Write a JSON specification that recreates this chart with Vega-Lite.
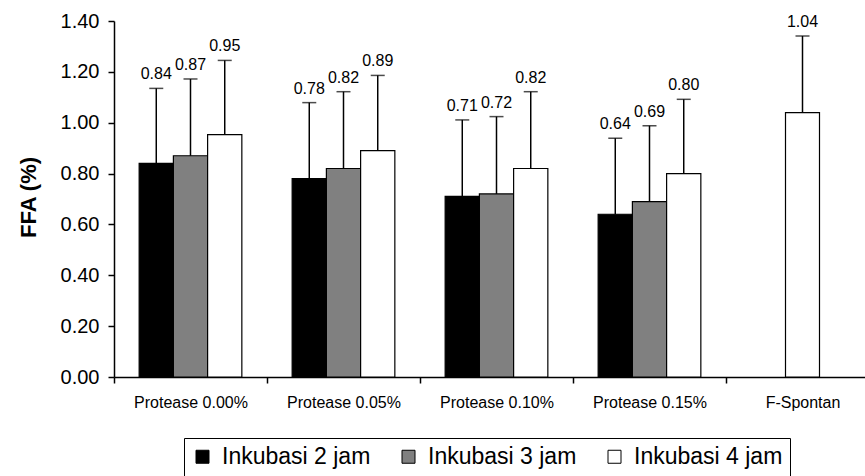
{
  "$schema": "https://vega.github.io/schema/vega-lite/v6.json",
  "autosize": {"type": "none"},
  "padding": {"left": 114, "top": 21, "right": 0, "bottom": 99},
  "width": 751,
  "height": 356,
  "background": "white",
  "config": {
    "view": {"stroke": null},
    "font": "Liberation Sans"
  },
  "data": {
    "values": [
      {"group": "Protease 0.00%", "series": "Inkubasi 2 jam", "value": 0.84, "upper": 1.135, "label": "0.84"},
      {"group": "Protease 0.00%", "series": "Inkubasi 3 jam", "value": 0.87, "upper": 1.172, "label": "0.87"},
      {"group": "Protease 0.00%", "series": "Inkubasi 4 jam", "value": 0.953, "upper": 1.245, "label": "0.95"},
      {"group": "Protease 0.05%", "series": "Inkubasi 2 jam", "value": 0.78, "upper": 1.079, "label": "0.78"},
      {"group": "Protease 0.05%", "series": "Inkubasi 3 jam", "value": 0.82, "upper": 1.122, "label": "0.82"},
      {"group": "Protease 0.05%", "series": "Inkubasi 4 jam", "value": 0.89, "upper": 1.186, "label": "0.89"},
      {"group": "Protease 0.10%", "series": "Inkubasi 2 jam", "value": 0.71, "upper": 1.011, "label": "0.71"},
      {"group": "Protease 0.10%", "series": "Inkubasi 3 jam", "value": 0.72, "upper": 1.024, "label": "0.72"},
      {"group": "Protease 0.10%", "series": "Inkubasi 4 jam", "value": 0.82, "upper": 1.122, "label": "0.82"},
      {"group": "Protease 0.15%", "series": "Inkubasi 2 jam", "value": 0.64, "upper": 0.939, "label": "0.64"},
      {"group": "Protease 0.15%", "series": "Inkubasi 3 jam", "value": 0.69, "upper": 0.988, "label": "0.69"},
      {"group": "Protease 0.15%", "series": "Inkubasi 4 jam", "value": 0.80, "upper": 1.092, "label": "0.80"},
      {"group": "F-Spontan", "series": "Inkubasi 4 jam", "value": 1.04, "upper": 1.341, "label": "1.04"}
    ]
  },
  "encoding": {
    "x": {
      "field": "group",
      "type": "nominal",
      "sort": ["Protease 0.00%", "Protease 0.05%", "Protease 0.10%", "Protease 0.15%", "F-Spontan"],
      "scale": {"range": [0, 765], "paddingInner": 0, "paddingOuter": 0},
      "axis": {
        "title": null,
        "labelAngle": 0,
        "labelFontSize": 16,
        "labelColor": "black",
        "labelPadding": 11,
        "tickBand": "extent",
        "tickSize": 6,
        "tickColor": "black",
        "domainColor": "black",
        "domainWidth": 1.5,
        "tickWidth": 1.5
      }
    },
    "y": {
      "field": "value",
      "type": "quantitative",
      "scale": {"domain": [0, 1.4], "nice": false},
      "axis": {
        "title": "FFA (%)",
        "titleFontSize": 22,
        "titleFontWeight": "bold",
        "titleColor": "black",
        "titleX": -79,
        "titleY": 176,
        "titleBaseline": "alphabetic",
        "values": [0, 0.2, 0.4, 0.6, 0.8, 1.0, 1.2, 1.4],
        "format": ".2f",
        "grid": false,
        "labelFontSize": 20,
        "labelColor": "black",
        "labelPadding": 9,
        "tickSize": 6,
        "tickColor": "black",
        "tickWidth": 1.5,
        "domainColor": "black",
        "domainWidth": 1.5
      }
    }
  },
  "layer": [
    {
      "transform": [{"filter": "datum.group != 'F-Spontan'"}],
      "mark": {"type": "bar", "stroke": "black", "strokeWidth": 1.2},
      "encoding": {
        "xOffset": {
          "field": "series",
          "type": "nominal",
          "scale": {"paddingInner": 0, "paddingOuter": 0.735}
        },
        "fill": {
          "field": "series",
          "type": "nominal",
          "scale": {"domain": ["Inkubasi 2 jam", "Inkubasi 3 jam", "Inkubasi 4 jam"], "range": ["#000000", "#808080", "#ffffff"]},
          "legend": {
            "title": null,
            "orient": "none",
            "legendX": 70,
            "legendY": 417,
            "direction": "horizontal",
            "strokeColor": "black",
            "padding": 7,
            "labelFontSize": 23,
            "labelColor": "black",
            "labelOffset": 8,
            "symbolType": "square",
            "symbolSize": 169,
            "symbolStrokeColor": "black",
            "symbolStrokeWidth": 1,
            "columnPadding": 26
          }
        }
      }
    },
    {
      "transform": [{"filter": "datum.group == 'F-Spontan'"}],
      "mark": {"type": "bar", "stroke": "black", "strokeWidth": 1.2, "width": 34},
      "encoding": {
        "fill": {"field": "series", "type": "nominal"}
      }
    },
    {
      "transform": [{"filter": "datum.group != 'F-Spontan'"}],
      "mark": {"type": "rule", "color": "black", "strokeWidth": 1.5},
      "encoding": {
        "xOffset": {"field": "series", "type": "nominal"},
        "y2": {"field": "upper"}
      }
    },
    {
      "transform": [{"filter": "datum.group == 'F-Spontan'"}],
      "mark": {"type": "rule", "color": "black", "strokeWidth": 1.5},
      "encoding": {
        "y2": {"field": "upper"}
      }
    },
    {
      "transform": [{"filter": "datum.group != 'F-Spontan'"}],
      "mark": {"type": "tick", "orient": "horizontal", "color": "black", "size": 14, "thickness": 1.5},
      "encoding": {
        "xOffset": {"field": "series", "type": "nominal"},
        "y": {"field": "upper", "type": "quantitative"}
      }
    },
    {
      "transform": [{"filter": "datum.group == 'F-Spontan'"}],
      "mark": {"type": "tick", "orient": "horizontal", "color": "black", "size": 14, "thickness": 1.5},
      "encoding": {
        "y": {"field": "upper", "type": "quantitative"}
      }
    },
    {
      "transform": [{"filter": "datum.group != 'F-Spontan'"}],
      "mark": {"type": "text", "fontSize": 16, "color": "black", "baseline": "alphabetic", "dy": -9},
      "encoding": {
        "xOffset": {"field": "series", "type": "nominal"},
        "y": {"field": "upper", "type": "quantitative"},
        "text": {"field": "label"}
      }
    },
    {
      "transform": [{"filter": "datum.group == 'F-Spontan'"}],
      "mark": {"type": "text", "fontSize": 16, "color": "black", "baseline": "alphabetic", "dy": -9},
      "encoding": {
        "y": {"field": "upper", "type": "quantitative"},
        "text": {"field": "label"}
      }
    }
  ]
}
